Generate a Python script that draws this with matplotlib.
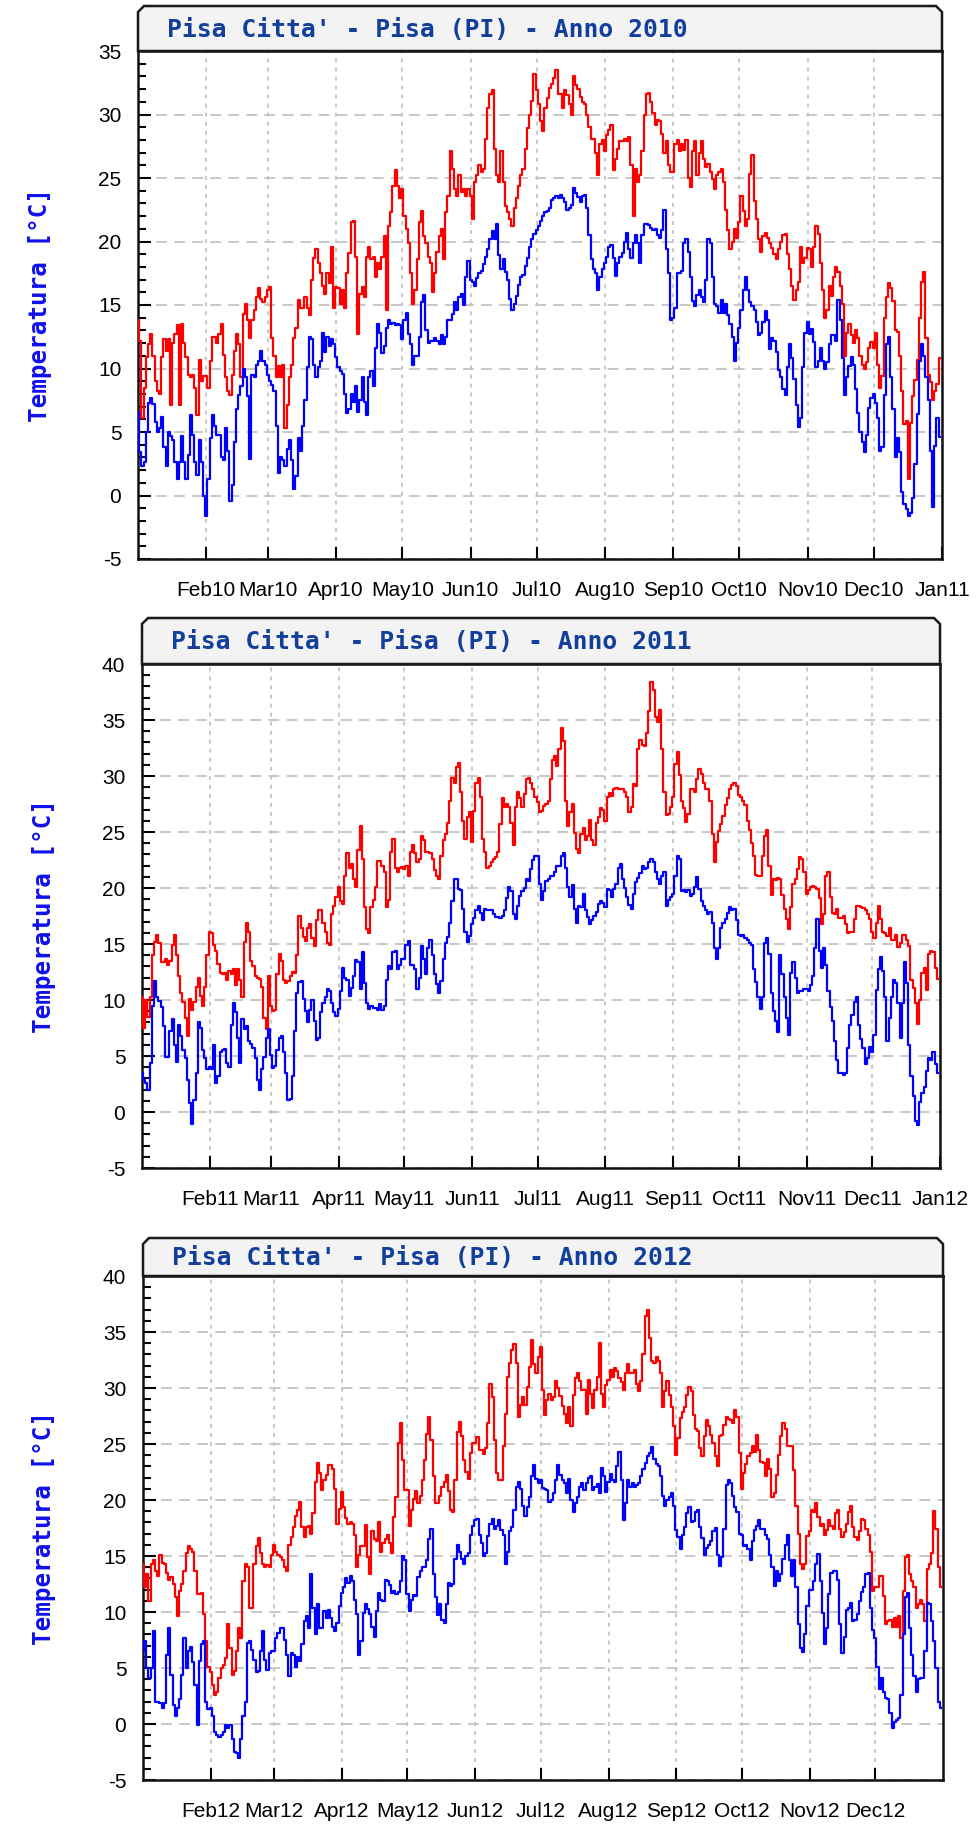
import matplotlib
matplotlib.use('Agg')
import matplotlib.pyplot as plt
import numpy as np
from matplotlib.patches import Polygon
from matplotlib.ticker import MultipleLocator

plt.rcParams['axes.unicode_minus'] = False
plt.rcParams['font.family'] = ['Liberation Sans', 'DejaVu Sans']

# daily maximum / minimum temperature (°C), one value per day from 1 January
tmax_2010 = [
    13.8, 12.2, 6.1, 8.5, 10.9, 11.9, 12.7, 11, 9, 8.2,
    8, 10.9, 12.3, 11.4, 12.3, 7.1, 12, 12.7, 13.4, 7.1,
    13.5, 12, 10.9, 9.5, 9.3, 9.5, 8.5, 6.3, 10.7, 9,
    9.4, 9.4, 8.5, 10.6, 12.5, 12.5, 12, 12.7, 13.5, 11.1,
    9.3, 8.2, 7.9, 9.5, 11.4, 12.7, 11.9, 9.3, 14.3, 15.1,
    13.8, 12.4, 13.8, 14.6, 15.6, 16.3, 15.5, 15.2, 15.6, 16.2,
    16.4, 12.4, 11, 9.3, 10.2, 9.3, 10.3, 5.3, 7.1, 9.3,
    10.3, 12.4, 13.2, 15.4, 14.8, 14.8, 15.6, 14.8, 14.2, 17,
    18.7, 19.4, 18.3, 17.5, 16.5, 15.9, 17.5, 16.7, 19.6, 14.8,
    16.4, 16.3, 15.1, 16.2, 14.8, 17.5, 19.1, 21.5, 21.6, 18.8,
    12.7, 15.9, 16.4, 15.6, 18.8, 19.6, 18.6, 18.8, 17.2, 18.3,
    17.8, 18.8, 20.4, 14.6, 21.2, 22.3, 24.4, 25.6, 24.4, 23.4,
    24.1, 22, 21, 19.9, 17.5, 15.1, 16.2, 18.6, 21.5, 22.4,
    20.4, 19.9, 18.8, 18.3, 16, 17.5, 19.2, 20.4, 21, 18.6,
    22.3, 23.6, 27.1, 25.7, 24.1, 23.6, 25.2, 23.9, 24.1, 23.6,
    24.1, 23.6, 21.8, 24.7, 25.2, 26, 25.5, 25.7, 28.1, 30.5,
    31.6, 31.9, 27.3, 25.2, 24.7, 27.1, 24.7, 22.8, 22.3, 21.8,
    21.2, 22.6, 23.4, 24.4, 25.2, 25.7, 27.3, 28.9, 30, 31.1,
    33.2, 31.9, 30.8,
    29.5, 28.7, 30.5, 31.3, 32.1, 32.4, 32.9, 33.5, 31.6, 31.6,
    30.5, 31.9, 31.5, 30.8, 30, 33, 32.3, 32, 31.4, 31,
    30.8, 30, 29, 28.1, 28.1, 27, 25.2, 27.7, 28, 27.1,
    28.4, 28.8, 29.2, 25.6, 26.5, 27.3, 27.9, 27.9, 28.1, 27.9,
    28.2, 26, 22, 25.7, 24.7, 25.2, 27.1, 30, 31.6, 31.7,
    31, 30.1, 29.2, 29.6, 29.5, 28.5, 27, 27.9, 26, 25.5,
    25.5, 27.7, 28, 27.1, 27.7, 27.2, 28, 25, 24.3, 27.1,
    27.9, 25.2, 27, 27.9, 26.5, 25.9, 26.1, 25.5, 24.9, 24.1,
    25.2, 25.5, 25.7, 24.7, 22.5, 20.9, 19.4, 20, 21, 20.3,
    21.5, 23.6, 22.4, 21.2, 21.8, 25.3, 26.8, 23.2, 21.8, 20.2,
    19.2, 20.4, 20.7, 20.3, 19.9, 19.5, 19, 18.6, 19.4, 20,
    20.5, 20.6, 19, 17.8, 16.5, 15.4, 16.2, 16.8, 19.6, 18.3,
    18.7, 19.5, 19.4, 18, 19.6, 21.2, 20.6, 18.3, 16.2, 14,
    14.6, 16.5, 15.7, 17.2, 18, 17.6, 16.5, 15.1, 11, 12.8,
    13.5, 12.6, 12, 13, 12.4, 11, 10.3, 10, 10.5, 11.6,
    12.1, 11.6, 12.8, 10.3, 8.5, 9.4, 14, 15.6, 16.7, 16.3,
    15.3, 13, 12.9, 11, 8.2, 5.6, 5.9, 1.3, 5.7, 7.8,
    9.1, 10.7, 14, 16.8, 17.6, 12.4, 9.5, 8.9, 7.5, 8.2,
    8.8, 10.8,
]
tmin_2010 = [
    6.6, 3.4, 2.3, 2.6, 5, 7.3, 7.7, 7.2, 5.8, 5,
    5.3, 6.2, 3.8, 2.3, 5, 4.7, 4.4, 2.6, 1.3, 2.6,
    4.7, 2.6, 1.3, 3.2, 6.3, 4.8, 2.6, 1.6, 4.4, 2.6,
    0, -1.6, 1.3, 4.5, 6.3, 5.5, 4.8, 4.8, 3, 2.8,
    5.3, 3.5, -0.4, 0.8, 4.2, 6.8, 7.9, 8.6, 10, 9.3,
    7.8, 2.9, 9.5, 9.3, 10.3, 10.6, 11.4, 10.6, 10.3, 9.5,
    9, 8.7, 8.2, 5.5, 1.8, 3, 2.8, 2.3, 3.7, 4.4,
    2.8, 0.5, 1.5, 4.5, 3.5, 5.5, 7.5, 10.1, 12.5, 12.3,
    10.3, 9.3, 10.1, 10.6, 12.8, 11.3, 12.5, 11.8, 12.3, 11.9,
    10.9, 10.1, 9.8, 9.6, 8, 6.5, 6.8, 8, 7.4, 8.6,
    6.6, 7.5, 9.3, 7.4, 6.3, 9.3, 9.8, 8.6, 11.6, 13.5,
    12.8, 11.2, 11.8, 13.2, 13.8, 13.5, 13.6, 13.4, 13.5, 13.4,
    12.3, 13.8, 14.4, 12.7, 11.9, 10.3, 11, 11, 12.5, 15.2,
    15.8, 13, 12, 12.2, 12.2, 12.4, 12.2, 11.9, 12.6, 11.9,
    12.5, 13.8, 13.8, 14.3, 15.2, 14.6, 15.6, 15.9, 15, 17.2,
    18.5, 17, 16.8, 16.5, 17.1, 17.5, 17.7, 18.2, 18.8, 19.4,
    20.2, 20.8, 20.2, 21.4, 18.9, 17.8, 18.6, 17.6, 17, 15.5,
    14.6, 15.1, 15.7, 16.6, 17.2, 17.4, 18.1, 18.7, 19.6, 20.2,
    20.6, 20.9, 21.2,
    21.6, 22, 22.3, 22.4, 22.6, 23.3, 23.4, 23.6, 23.4, 23.7,
    23.4, 23.1, 22.5, 22.6, 22.9, 24.2, 23.8, 23.5, 23.1, 23.6,
    23.7, 22.6, 20.5, 18.6, 17.8, 17.5, 16.2, 17.2, 17.8, 18.3,
    18.8, 19.6, 19.7, 18.7, 17.3, 18.3, 18.8, 19.1, 20, 20.7,
    19.4, 18.7, 19.9, 20.5, 19.9, 18.3, 20.5, 21.4, 21.4, 21.3,
    21.1, 20.9, 21, 20.5, 20.3, 20.9, 22.5, 19.4, 17.5, 13.8,
    14, 14.8, 17.5, 17.5, 17.7, 19.9, 20.2, 19.2, 17.2, 15.3,
    14.9, 15.8, 16.2, 15.6, 15.2, 17, 20.2, 19.9, 17.2, 15.1,
    14.9, 14.4, 15.4, 14.4, 15.1, 14.2, 13.5, 12.5, 10.6, 12,
    13.2, 14.6, 16.2, 17.2, 16.2, 15.2, 14.9, 14.6, 13.7, 12.6,
    12.8, 13.7, 14.5, 13.8, 11.5, 12.4, 12.2, 11.3, 9.9, 9.3,
    8.4, 7.9, 10.1, 11.9, 10.8, 9.2, 7.1, 5.4, 6.1, 10.1,
    12.8, 13.7, 12.7, 13.1, 12.1, 10.1, 10.6, 11.6, 10.6, 10,
    10.5, 11.9, 12.6, 12.6, 12.2, 15.4, 13.8, 10.8, 7.9, 9.3,
    10.2, 10.9, 10.3, 8.4, 6.5, 5, 4.2, 3.4, 4.8, 6.9,
    7.7, 8, 7.3, 6.1, 3.5, 3.8, 7.9, 11.9, 12.5, 9.3,
    6.8, 3, 4.5, 3.4, 0.3, -0.7, -1.1, -1.6, -1.4, -0.2,
    2.5, 6.4, 10.6, 11.9, 11, 9.3, 7.5, 3.5, -0.9, 3.9,
    6.1, 4.6,
]
tmax_2011 = [
    10.3, 7.5, 10, 8.5, 10.3, 14, 15.2, 15.8, 15.1, 13.4,
    13.4, 13.7, 13.1, 13.5, 14.9, 15.8, 14, 12.1, 10.6, 9.8,
    8.4, 6.8, 10.1, 9.1, 9.8, 11.2, 12, 10.4, 9.5, 11.2,
    14, 16.1, 16, 14.9, 14.4, 13.2, 12.4, 12.3, 12.4, 11.8,
    12.6, 12.3, 12.8, 11.3, 12.8, 11.8, 10.3, 15.2, 16.9, 16.1,
    13.5, 13, 12.1, 12, 11.9, 11.2, 8.4, 7.4, 12.1, 9.5,
    9, 9.1, 12.3, 14.1, 13.5, 11.8, 11.5, 11.7, 12.1, 12.5,
    12.4, 14, 17.5, 16.4, 15.6, 15.3, 16.4, 16.8, 15.5, 14.8,
    17.1, 18, 18, 16.9, 16.1, 15.1, 14.9, 17.7, 18.4, 19.2,
    20.1, 18.8, 18.6, 21.1, 23.1, 21.8, 22.1, 20.8, 20.1, 23.4,
    25.5, 22.6, 18.3, 16.3, 16, 18.3, 18.9, 20.1, 22.4, 22.4,
    22, 21.4, 18.3, 18.9, 23.2, 24.4, 21.8, 21.4, 21.8, 21.9,
    21.7, 22, 21.1, 23.2, 23.8, 23.1, 22.3, 22.6, 24.6, 24.3,
    23.2, 23.2, 23.1, 22.6, 21.6, 21.1, 20.8, 22.9, 24.3, 24.8,
    25.8, 27.8, 29.8, 29.4, 30.8, 31.2, 28.6, 26, 24.4, 26.3,
    26.8, 24.1, 26.9, 29.4, 29.8, 28.1, 24.4, 23.2, 21.8, 22,
    22.3, 22.6, 22.8, 23.2, 25.7, 28, 27.2, 27.5, 27.2, 25.8,
    23.8, 27.2, 28.6, 28, 27.2, 28.4, 29.7, 29.8, 29.4, 28.8,
    28.1, 27.7, 26.8, 26.9, 27.3, 27.5, 27.8, 29.7, 31.4, 31.8,
    30.9, 32.4, 34.3, 33.1, 27.8, 25.5, 26.8, 27.5, 24.9, 23.5,
    23.1, 24.8, 25.4, 24.3, 24.6, 26.1, 24.3, 23.8, 25.8, 26.3,
    27.1, 27, 26, 28.1, 28.5, 28.2, 28.8, 28.9, 28.8, 28.8,
    28.8, 28.6, 28.1, 26.8, 27.2, 29.3, 29.1, 32.4, 33.2, 32.8,
    32.7, 33.8, 35.8, 38.4, 37.7, 35.3, 34.8, 35.9, 32.4, 28.6,
    26.5, 26.6, 27.2, 28.1, 31.1, 32.1, 30.1, 27.8, 27.1, 25.9,
    26.6, 28.8, 28.8, 28.6, 29.7, 30.6, 30.2, 29.4, 28.8, 28.8,
    27.8, 24.8, 22.3, 24.1, 25.1, 25.7, 26.4, 27.4, 28, 28.8,
    29.2, 29.4, 29.1, 28.3, 28.1, 27.8, 27.4, 26, 25.2, 24,
    22.9, 21.2, 21.1, 21.1, 22.9, 24.6, 25.2, 22, 19.4, 20.8,
    20.7, 20.9, 20.8, 19.4, 18.1, 17.2, 16.3, 18.3, 20.4, 20.8,
    21.7, 22.8, 22.6, 21.4, 19.5, 19.8, 20.1, 20.2, 20.1, 19.9,
    19.1, 16.8, 17.7, 21.1, 21.4, 19.2, 17.8, 17.7, 18.1, 17.3,
    17.3, 17.5, 16.8, 16, 16.1, 16.1, 17.2, 18.4, 18.4, 18.3,
    18.2, 18, 17.7, 17.2, 16.1, 15.5, 16.9, 18.4, 17.2, 16.1,
    16, 15.7, 16.4, 15.4, 15.4, 15.8, 14.7, 15.1, 15.8, 15.8,
    15.4, 14.8, 11.8, 11.1, 9.7, 7.9, 10, 12.4, 12.9, 10.9,
    14.1, 14.4, 14.3, 12.9, 11.9,
]
tmin_2011 = [
    3.5, 2.9, 2.6, 2, 4.4, 9.5, 11.7, 10.3, 9.9, 9.4,
    7.7, 4.9, 4.9, 7.2, 8.3, 6, 4.5, 7.8, 6.8, 5.5,
    4.8, 2.9, 0.8, -1.1, 1.1, 3.5, 8, 7.5, 5.5, 4.8,
    3.8, 4, 3.8, 6, 2.6, 3.2, 5.4, 5.5, 5.6, 4.4,
    4, 7.8, 9.7, 8.9, 6.6, 4.4, 8.3, 7.4, 7.7, 6.3,
    6.1, 5.7, 4.8, 2.9, 2, 3.8, 4.9, 6.6, 7.4, 5.1,
    3.9, 4.1, 5.5, 6.6, 6.8, 5.4, 3.5, 1.1, 1.2, 3.2,
    7.2, 10.6, 11.6, 11.7, 10.1, 9, 8, 9.1, 10, 8.1,
    6.4, 6.6, 8.9, 9.7, 10.3, 11, 10.8, 9.7, 8.9, 8.6,
    9.2, 10.8, 12.9, 12, 11.8, 10.4, 11.1, 12.1, 13.6, 13.4,
    11, 14.3, 11.5, 9.7, 9.2, 9.5, 9.3, 9.3, 9.1, 9.6,
    9.1, 9.5, 11.8, 13, 12.8, 14.3, 14.4, 12.8, 13.1, 13.7,
    13.7, 14.9, 15.3, 13.1, 13.1, 12.8, 11, 12, 14.8, 13.7,
    12.3, 14.6, 15.4, 14, 12.3, 11.4, 10.6, 11.7, 13.7, 15.1,
    15.6, 16.9, 18.8, 20.8, 20.8, 19.9, 19.8, 18.1, 16.1, 15.2,
    15.7, 16.8, 17.3, 18, 18.4, 17.8, 17.1, 18.1, 18, 18,
    18, 17.7, 17.4, 17.4, 17.3, 17.5, 18, 19.1, 20.1, 19.7,
    17.7, 17.2, 18.4, 19.3, 19.7, 20, 20.8, 20.6, 21.7, 22.5,
    22.9, 22.9, 20.4, 18.9, 19.7, 20.6, 20.8, 21.1, 21.1, 21.4,
    22, 22, 22.9, 23.1, 21.8, 20.1, 19.2, 20.3, 18.1, 16.9,
    18.4, 18.3, 19.5, 18, 17.4, 16.8, 17.1, 17.5, 17.9, 18.6,
    18.8, 18.7, 18.3, 19.9, 19.8, 19.2, 19.9, 20.4, 21.8, 22.1,
    20.8, 20, 19.2, 18.5, 18.1, 19.5, 20.5, 20.9, 21.3, 22,
    21.7, 21.8, 22.3, 22.6, 22.3, 21.4, 20.8, 20.4, 21.1, 21.4,
    18.4, 18.9, 19.2, 19.5, 21.1, 22.9, 22.6, 19.7, 19.8, 19.6,
    19.8, 19.3, 19.5, 20.1, 21, 19.9, 18.8, 18.4, 18, 17.7,
    17.9, 16.9, 14.6, 13.7, 14.6, 16.4, 16.9, 17.2, 17.8, 18.3,
    18, 18.1, 17.1, 15.8, 15.7, 15.8, 15.5, 15.4, 15.1, 14.9,
    12.8, 11.6, 10.3, 9.2, 10.3, 15.1, 15.5, 14.1, 10.6, 9,
    8.1, 7.1, 14, 12.3, 10.3, 8.4, 6.9, 12.4, 13.4, 12,
    10.6, 10.8, 10.8, 11, 11, 10.8, 11.3, 12.1, 14.6, 17.2,
    14.4, 12.9, 14.6, 13.1, 10.8, 9.4, 8.1, 6.3, 4.6, 3.5,
    3.5, 3.3, 3.5, 5.7, 7.8, 8.7, 9.8, 10.3, 7.8, 6.5,
    5.7, 4.3, 4.8, 5.8, 5.4, 6.9, 10.9, 12.8, 13.8, 12.6,
    10.3, 6.3, 8.4, 10.3, 11.8, 11.5, 9.7, 6.6, 9.7, 13.4,
    11.5, 6, 3.2, 1.4, -0.8, -1.2, 0.9, 1.7, 2.2, 3.7,
    4.8, 4.6, 5.4, 4.3, 3.5,
]
tmax_2012 = [
    14.3, 12.2, 13.4, 11, 14.3, 14.6, 13.7, 13.2, 15.1, 14.4,
    14.3, 13.5, 12.9, 13.1, 12.5, 11.3, 9.6, 11.9, 12.5, 13.7,
    15.3, 15.9, 15.6, 15.4, 13.7, 11.6, 11.6, 11.7, 9.8, 7.4,
    5.1, 4.6, 3.5, 2.6, 2.9, 4.1, 5, 5.3, 5.9, 8.9,
    6.8, 4.4, 4.7, 6.5, 8.6, 7.7, 12.8, 14.3, 14, 10.4,
    10.4, 14.3, 15.9, 16.6, 15.3, 14.3, 14, 14.2, 14, 15.1,
    16, 15.4, 15.1, 14.9, 14.6, 14, 13.7, 16, 16.7, 17.6,
    18.6, 19.1, 19.8, 17.6, 16.7, 17.6, 17.7, 17, 18.8, 21.6,
    23.3, 22.4, 20.9, 21.8, 22.2, 23.1, 23.1, 22.8, 21, 17.9,
    19.2, 20.7, 19.4, 18.4, 17.9, 18, 17.9, 16.9, 14, 15.1,
    15.9, 15.9, 17.8, 14.9, 13.4, 17.2, 16.5, 16.3, 18, 15.4,
    16.2, 16.5, 16.9, 16.2, 15.3, 18.5, 20.3, 25.1, 26.9, 23.6,
    20.9, 20.9, 17.7, 19.1, 20.1, 20.8, 19.7, 20.4, 21.8, 23.6,
    25.9, 27.4, 25.4, 22.1, 19.7, 19.7, 20.4, 21.2, 21.6, 22.2,
    20.8, 19.1, 18.9, 21.8, 26.1, 27, 25.7, 23.6, 22.5, 21.9,
    24.2, 25.1, 25.1, 25.6, 24.5, 24.5, 24.1, 24.6, 26.9, 30.4,
    29.2, 25.4, 22.4, 21.8, 21.8, 24.8, 27.7, 31, 32.2, 33.4,
    33.9, 32.2, 27.4, 28.5, 29.2, 28.5, 30.1, 31.9, 34.3, 32.1,
    31.3, 32.8, 33.7, 29.8, 27.6, 28.9, 29.5, 28.9, 29.2,
    30.6, 30, 29.3, 28.4, 27.7, 26.9, 28.3, 26.6, 29.4, 30.9,
    31.3, 30.6, 29.8, 29.8, 27.7, 30.7, 29.5, 28.2, 29.8, 31,
    34, 29.5, 28.3, 30.3, 30.7, 31.6, 31, 31.8, 31.5, 30.9,
    30.5, 29.8, 31.3, 32.1, 31.3, 31.3, 31.6, 30.4, 29.7, 30.6,
    33, 36.4, 37, 34.5, 32.4, 32.2, 32.8, 32.4, 31.3, 28.3,
    29.7, 30.6, 29.4, 28.3, 26.6, 24, 25.5, 27.3, 27.9, 28.3,
    29.4, 30.1, 29.7, 27.6, 26.3, 26.2, 24.6, 23.9, 25.7, 27.1,
    26.6, 25.8, 25.1, 23.9, 23, 25.7, 25.8, 26.7, 27.4, 27.2,
    27.1, 26.9, 28, 27.4, 24.2, 21, 22.4, 23.2, 23.9, 24.2,
    24.8, 24.3, 25.8, 24.5, 23.4, 23.3, 22.1, 23.7, 22.8, 20.3,
    20.6, 22.2, 24, 25.7, 26.9, 26.3, 24.8, 24.8, 24.8, 22.7,
    19.5, 17, 14.3, 13.8, 14.3, 16.8, 17.2, 19.1, 18.9, 19.7,
    18.5, 17.7, 17.9, 16.9, 17.3, 18.2, 17.7, 17.4, 18.8, 19.1,
    17.4, 16.7, 17.1, 17.9, 18.9, 19.5, 17.6, 16.7, 16.4, 17.2,
    18.3, 18.2, 17.4, 16.9, 15.4, 11.9, 12.2, 12.2, 13.2, 13.2,
    11.4, 8.9, 9.2, 9.3, 8.7, 9.5, 8.7, 9.6, 7.7, 11.9,
    14.9, 15.1, 13.4, 12.8, 12.2, 10.4, 10.7, 11.1, 10.7, 9.2,
    13.8, 14.3, 15.3, 19, 17.4, 14, 12.2,
]
tmin_2012 = [
    6.5, 7.4, 5, 4.1, 5, 8.3, 2, 2, 1.9, 1.4,
    1.9, 6.2, 8.6, 4.4, 1.7, 0.7, 1.4, 2.2, 4.4, 7.7,
    5, 6.5, 6.9, 5.5, 3.5, -0.1, 5.6, 7.1, 7.4, 2,
    1.3, 1.4, 0.7, -0.7, -1, -1.2, -1, -0.7, -0.1, -0.4,
    -0.1, -1.3, -2.5, -2.6, -3, -1.3, 0.7, 2, 7.2, 7.4,
    6.6, 5.7, 4.6, 4.7, 6.5, 8.3, 5.7, 4.8, 6.3, 6.5,
    6.5, 7.7, 8.1, 8.6, 8.6, 7.5, 6.2, 4.3, 6.3, 6.2,
    5.1, 6, 5.6, 7.1, 9.2, 9.6, 8.6, 13.4, 10.4, 8,
    10.7, 8.6, 8.6, 10.1, 9.5, 10.2, 9.5, 8.7, 8.3, 9,
    10.5, 11.7, 12.2, 13, 12.6, 13.2, 12.8, 11.1, 9.8, 6.2,
    7.4, 9.9, 10.7, 10.3, 9.8, 8.7, 7.8, 10.1, 11.7, 11.1,
    11, 12.9, 12.8, 12.4, 11.7, 11.9, 11.6, 11.8, 12.8, 15,
    14.6, 11.6, 10.1, 11.1, 11.5, 11.4, 13.1, 13.7, 14, 14,
    14.6, 16.5, 17.4, 13.4, 11.3, 9.7, 10.7, 9.3, 9, 10.7,
    12.6, 12.3, 12.5, 14.7, 16, 15.4, 14.7, 14.3, 15, 15.3,
    16.9, 17.7, 18.2, 18.3, 16.9, 16.2, 15, 15.3, 16.8, 17.9,
    18.3, 17.4, 17.7, 18.2, 17.3, 16.9, 14.3, 15.4, 17.2, 17.6,
    19.1, 21.2, 21.6, 21, 19.5, 18.6, 19.4, 20.3, 22.1, 23.1,
    21.9, 21.5, 21.8, 21.1, 21, 20.9, 19.8, 20, 20.6,
    21.8, 23.1, 22.2, 21.8, 21.5, 20.6, 21.9, 20, 18.9, 19.7,
    20.3, 21.2, 21.5, 20.9, 21.5, 22, 22.1, 20.9, 21.2, 21.4,
    20.6, 22.9, 22.1, 20.7, 21.6, 22.3, 21.8, 21.6, 23, 24.3,
    21.8, 18.2, 19.7, 21.8, 21.2, 21.5, 21.2, 21.3, 21.5, 22.1,
    22.8, 23.3, 23.9, 24.2, 24.7, 23.7, 23.2, 23, 22.1, 20.4,
    19.5, 20, 20.3, 20.6, 19.5, 17.3, 16.7, 15.6, 16.9, 17.6,
    18.8, 19.4, 18, 18.1, 18.9, 19.1, 17.6, 16.6, 15.1, 15.7,
    16, 16.3, 17.2, 17.5, 15.1, 14.1, 14.9, 17.4, 21.3, 21.8,
    21.5, 20.4, 19.4, 18.9, 17, 16.9, 15.9, 16, 15.6, 14.6,
    16.3, 17.3, 17.7, 18.2, 17.4, 17.4, 16.9, 16.5, 15.1, 14,
    12.3, 13.7, 12.8, 13.4, 14.7, 16, 16.9, 14.6, 13.2, 14.6,
    12.2, 8.9, 6.8, 6.4, 8, 10.5, 12, 12, 12.8, 14.3,
    15.2, 12.8, 9.9, 7.1, 8.6, 11.6, 13.5, 13.7, 13.7, 12.9,
    8.9, 6.3, 7.8, 10.2, 10.4, 10.8, 9.2, 9.3, 9.8, 11,
    11.8, 12.2, 13.4, 13.5, 10.4, 8.4, 7.7, 5.1, 3.1, 4.1,
    2.9, 2.3, 2.2, 1, -0.4, 0.2, 0.4, 0.5, 2.6, 8,
    11.3, 11.7, 8.6, 6.2, 4.3, 2.9, 4, 4.1, 4.1, 6.5,
    10.8, 10.7, 9.2, 7.4, 5, 2, 1.4,
]

# month starts (day of year) and their labels
month_days = [31, 59, 90, 120, 151, 181, 212, 243, 273, 304, 334, 365]
month_days_leap = [31, 60, 91, 121, 152, 182, 213, 244, 274, 305, 335]
labels_2010 = ['Feb10', 'Mar10', 'Apr10', 'May10', 'Jun10', 'Jul10',
               'Aug10', 'Sep10', 'Oct10', 'Nov10', 'Dec10', 'Jan11']
labels_2011 = ['Feb11', 'Mar11', 'Apr11', 'May11', 'Jun11', 'Jul11',
               'Aug11', 'Sep11', 'Oct11', 'Nov11', 'Dec11', 'Jan12']
labels_2012 = ['Feb12', 'Mar12', 'Apr12', 'May12', 'Jun12', 'Jul12',
               'Aug12', 'Sep12', 'Oct12', 'Nov12', 'Dec12']

W, H = 976, 1827
fig = plt.figure(figsize=(W / 100, H / 100), dpi=100)


def fx(x):
    return x / W


def fy(y):
    return 1 - y / H


# year, tmax, tmin, ticks, labels, days, ymax, axes box (l, t, r, b) in px, header top, ylabel x
panels = [
    (2010, tmax_2010, tmin_2010, month_days, labels_2010, 365, 35, (138, 51, 942, 559), 6, 40),
    (2011, tmax_2011, tmin_2011, month_days, labels_2011, 365, 40, (142, 664, 940, 1168), 618, 44),
    (2012, tmax_2012, tmin_2012, month_days_leap, labels_2012, 366, 40, (143, 1276, 943, 1780), 1238, 44),
]

for year, tmax, tmin, ticks, labels, ndays, ymax, (l, t, r, b), htop, ylx in panels:
    ax = fig.add_axes([fx(l), fy(b), (r - l) / W, (b - t) / H])
    ax.plot(np.arange(len(tmax)), tmax, color='#ff0000', lw=1.6,
            drawstyle='steps-mid', zorder=3)
    ax.plot(np.arange(len(tmin)), tmin, color='#0000ff', lw=1.6,
            drawstyle='steps-mid', zorder=3)
    ax.set_xlim(0, ndays)
    ax.set_ylim(-5, ymax)

    ax.yaxis.set_major_locator(MultipleLocator(5))
    ax.yaxis.set_minor_locator(MultipleLocator(1))
    ax.set_xticks(ticks)
    ax.set_xticklabels(labels)

    ax.set_axisbelow(True)
    ax.grid(True, axis='y', which='major', color='#c4c4c4', lw=1.3,
            linestyle=(0, (6, 4)))
    ax.grid(True, axis='x', which='major', color='#c4c4c4', lw=1.3,
            linestyle=(0, (2.2, 2.8)))

    ax.tick_params(axis='both', which='major', direction='in', length=9,
                   width=1.5, labelsize=15, colors='black')
    ax.tick_params(axis='y', which='minor', direction='in', length=5.5, width=1.5)
    ax.tick_params(axis='y', which='major', pad=12)
    ax.tick_params(axis='x', which='major', pad=16)
    ax.tick_params(axis='x', which='minor', bottom=False)
    for s in ax.spines.values():
        s.set_linewidth(1.8)
        s.set_color('#111111')

    # title header with clipped top corners
    c = 6
    pts = [(l, t), (l, htop + c), (l + c, htop), (r - c, htop), (r, htop + c), (r, t)]
    fig.add_artist(Polygon([(fx(x), fy(y)) for x, y in pts], closed=True,
                           facecolor='#f3f3f3', edgecolor='#1a1a1a', lw=1.8,
                           transform=fig.transFigure))
    fig.text(fx(l + 29), fy((htop + t) / 2 + 1), "Pisa Citta' - Pisa (PI) - Anno %d" % year,
             ha='left', va='center', fontsize=17.7, fontweight='bold',
             family='DejaVu Sans Mono', color='#123f9c')

    fig.text(fx(ylx), fy((t + b) / 2), 'Temperatura [°C]', rotation=90,
             ha='center', va='center', fontsize=17.5, fontweight='bold',
             family='DejaVu Sans Mono', color='#1010ee')

fig.savefig('out.png', dpi=100)
